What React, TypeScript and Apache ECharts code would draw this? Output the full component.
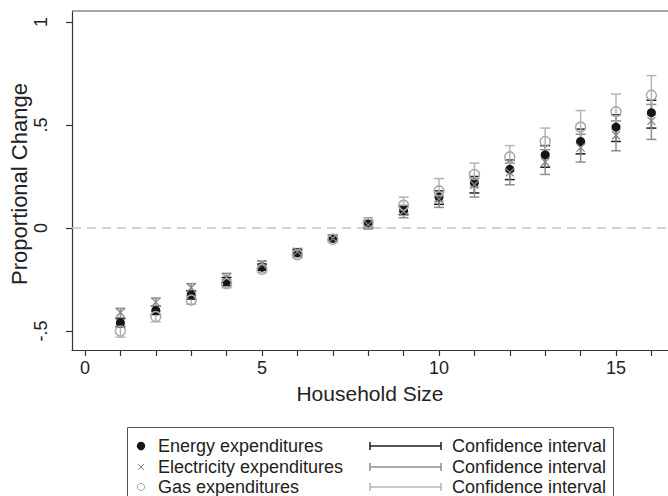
import React, { useEffect, useRef } from "react";
import * as echarts from "echarts";

const householdSize = [1, 2, 3, 4, 5, 6, 7, 8, 9, 10, 11, 12, 13, 14, 15, 16];

const energyMean = [-0.46, -0.4, -0.325, -0.26, -0.19, -0.12, -0.05, 0.02, 0.085, 0.15, 0.22, 0.285, 0.355, 0.42, 0.49, 0.56];
const energyLow = [-0.48, -0.42, -0.345, -0.28, -0.205, -0.135, -0.065, 0.005, 0.065, 0.115, 0.17, 0.235, 0.295, 0.36, 0.42, 0.485];
const energyHigh = [-0.44, -0.38, -0.305, -0.24, -0.175, -0.105, -0.035, 0.035, 0.105, 0.18, 0.25, 0.33, 0.4, 0.48, 0.55, 0.62];

const elecMean = [-0.41, -0.36, -0.29, -0.24, -0.175, -0.115, -0.05, 0.015, 0.08, 0.14, 0.21, 0.27, 0.32, 0.39, 0.45, 0.52];
const elecLow = [-0.435, -0.38, -0.31, -0.26, -0.195, -0.13, -0.065, -0.005, 0.05, 0.1, 0.15, 0.21, 0.26, 0.32, 0.375, 0.43];
const elecHigh = [-0.39, -0.34, -0.27, -0.22, -0.16, -0.1, -0.035, 0.035, 0.11, 0.175, 0.24, 0.315, 0.38, 0.455, 0.52, 0.6];

const gasMean = [-0.5, -0.43, -0.35, -0.27, -0.2, -0.13, -0.055, 0.025, 0.11, 0.18, 0.26, 0.345, 0.42, 0.49, 0.565, 0.645];
const gasLow = [-0.53, -0.455, -0.37, -0.29, -0.215, -0.145, -0.07, 0.005, 0.075, 0.13, 0.2, 0.275, 0.345, 0.41, 0.48, 0.55];
const gasHigh = [-0.47, -0.405, -0.33, -0.25, -0.185, -0.115, -0.04, 0.05, 0.15, 0.24, 0.315, 0.4, 0.485, 0.57, 0.65, 0.74];

const xTickValues = [0, 1, 2, 3, 4, 5, 6, 7, 8, 9, 10, 11, 12, 13, 14, 15, 16];
const xLabelValues = [0, 5, 10, 15];
const yTickValues = [-0.5, 0, 0.5, 1];
const yTickLabels = ["-.5", "0", ".5", "1"];

const seriesNames = ["Energy expenditures", "Electricity expenditures", "Gas expenditures"];
const ciLabel = "Confidence interval";
const xTitle = "Household Size";
const yTitle = "Proportional Change";

const FONT = "'Liberation Sans', Arial, Helvetica, sans-serif";
const C_ENERGY = "#151515";
const C_ELEC = "#858585";
const C_GAS = "#a9a9a9";
const C_ENERGY_CI = "#1c1c1c";
const C_ELEC_CI = "#8e8e8e";
const C_GAS_CI = "#b4b4b4";

function ciSeries(name: string, low: number[], high: number[], color: string) {
  return {
    type: "custom",
    name,
    z: 2,
    silent: true,
    data: householdSize.map((x, i) => [x, low[i], high[i]]),
    encode: { x: 0, y: [1, 2] },
    renderItem: (params: any, api: any) => {
      const x = api.value(0);
      const lo = api.coord([x, api.value(1)]);
      const hi = api.coord([x, api.value(2)]);
      const w = 5;
      const st = { stroke: color, lineWidth: 1.5 };
      return {
        type: "group",
        children: [
          { type: "line", shape: { x1: lo[0], y1: lo[1], x2: hi[0], y2: hi[1] }, style: st },
          { type: "line", shape: { x1: lo[0] - w, y1: lo[1], x2: lo[0] + w, y2: lo[1] }, style: st },
          { type: "line", shape: { x1: hi[0] - w, y1: hi[1], x2: hi[0] + w, y2: hi[1] }, style: st },
        ],
      };
    },
  };
}

export default function App() {
  const ref = useRef<HTMLDivElement>(null);
  useEffect(() => {
    if (!ref.current) return;
    const chart = echarts.init(ref.current, null, { renderer: "svg" });
    const gridLeft = 72;
    const gridTop = 11;
    const gridBottomPx = 350;
    const gridWidth = 596;
    const pxPerX = 35.4;
    const x0px = 85;
    const xMin = (gridLeft - x0px) / pxPerX;
    const xMax = xMin + gridWidth / pxPerX;
    const pxPerY = 206;
    const y0px = 228;
    const yMin = -(gridBottomPx - y0px) / pxPerY;
    const yMax = (y0px - gridTop) / pxPerY;

    const legendRows = [446, 467, 487];
    const legendGraphics: any[] = [
      {
        type: "rect",
        shape: { x: 127.5, y: 427.5, width: 486, height: 100 },
        style: { fill: "#fff", stroke: "#555", lineWidth: 1 },
        z: 10,
      },
      { type: "circle", shape: { cx: 141, cy: legendRows[0], r: 4.2 }, style: { fill: C_ENERGY }, z: 11 },
      { type: "line", shape: { x1: 138, y1: legendRows[1] - 3, x2: 144, y2: legendRows[1] + 3 }, style: { stroke: C_ELEC, lineWidth: 1 }, z: 11 },
      { type: "line", shape: { x1: 138, y1: legendRows[1] + 3, x2: 144, y2: legendRows[1] - 3 }, style: { stroke: C_ELEC, lineWidth: 1 }, z: 11 },
      { type: "circle", shape: { cx: 141, cy: legendRows[2], r: 3.6 }, style: { fill: "none", stroke: C_GAS, lineWidth: 1 }, z: 11 },
      {
        type: "line",
        shape: { x1: gridLeft, y1: gridTop, x2: 668, y2: gridTop },
        style: { stroke: "#8a8a8a", lineWidth: 1.5 },
        z: 1,
      },
    ];
    const ciColors = [C_ENERGY_CI, C_ELEC_CI, C_GAS_CI];
    legendRows.forEach((y, i) => {
      legendGraphics.push({
        type: "text",
        x: 158,
        y,
        style: { text: seriesNames[i], font: `18px ${FONT}`, fill: "#222", verticalAlign: "middle", textAlign: "left" },
        z: 11,
      });
      legendGraphics.push({
        type: "text",
        x: 452,
        y,
        style: { text: ciLabel, font: `18px ${FONT}`, fill: "#222", verticalAlign: "middle", textAlign: "left" },
        z: 11,
      });
      const st = { stroke: ciColors[i], lineWidth: 1.5 };
      legendGraphics.push({ type: "line", shape: { x1: 370, y1: y, x2: 441, y2: y }, style: st, z: 11 });
      legendGraphics.push({ type: "line", shape: { x1: 370, y1: y - 4, x2: 370, y2: y + 4 }, style: st, z: 11 });
      legendGraphics.push({ type: "line", shape: { x1: 441, y1: y - 4, x2: 441, y2: y + 4 }, style: st, z: 11 });
    });

    chart.setOption({
      animation: false,
      backgroundColor: "#fff",
      textStyle: { fontFamily: FONT },
      grid: {
        left: gridLeft,
        top: gridTop,
        width: gridWidth,
        height: gridBottomPx - gridTop,
        show: false,
      },
      xAxis: {
        type: "value",
        min: xMin,
        max: xMax,
        axisLine: { show: true, onZero: false, lineStyle: { color: "#333", width: 1.2 } },
        axisTick: { show: true, customValues: xTickValues, length: 6, lineStyle: { color: "#333", width: 1.2 } },
        axisLabel: { customValues: xLabelValues, fontSize: 18, color: "#222", margin: 9, fontFamily: FONT },
        splitLine: { show: false },
      },
      yAxis: {
        type: "value",
        min: yMin,
        max: yMax,
        axisLine: { show: true, onZero: false, lineStyle: { color: "#333", width: 1.2 } },
        axisTick: { show: true, customValues: yTickValues, length: 6, lineStyle: { color: "#333", width: 1.2 } },
        axisLabel: {
          customValues: yTickValues,
          rotate: 90,
          fontSize: 18,
          color: "#222",
          margin: 22,
          fontFamily: FONT,
          formatter: (v: number) => {
            const idx = yTickValues.findIndex((t) => Math.abs(t - v) < 1e-6);
            return idx >= 0 ? yTickLabels[idx] : "";
          },
        },
        splitLine: { show: false },
      },
      series: [
        ciSeries("Energy CI", energyLow, energyHigh, C_ENERGY_CI),
        ciSeries("Electricity CI", elecLow, elecHigh, C_ELEC_CI),
        ciSeries("Gas CI", gasLow, gasHigh, C_GAS_CI),
        {
          type: "scatter",
          name: seriesNames[0],
          z: 3,
          symbol: "circle",
          symbolSize: 9,
          itemStyle: { color: C_ENERGY, opacity: 1 },
          data: householdSize.map((x, i) => [x, energyMean[i]]),
          markLine: {
            silent: true,
            symbol: ["none", "none"],
            label: { show: false },
            lineStyle: { type: [9, 6], color: "#c4c4c4", width: 1.5 },
            data: [{ yAxis: 0 }],
            z: 1,
          },
        },
        {
          type: "scatter",
          name: seriesNames[1],
          z: 4,
          symbol: "path://M0,0L10,10M10,0L0,10",
          symbolSize: 8,
          itemStyle: { color: "rgba(0,0,0,0)", borderColor: C_ELEC, borderWidth: 1.3, opacity: 1 },
          data: householdSize.map((x, i) => [x, elecMean[i]]),
        },
        {
          type: "scatter",
          name: seriesNames[2],
          z: 5,
          symbol: "circle",
          symbolSize: 10,
          itemStyle: { color: "rgba(0,0,0,0)", borderColor: C_GAS, borderWidth: 1.5, opacity: 1 },
          data: householdSize.map((x, i) => [x, gasMean[i]]),
        },
      ],
      graphic: [
        {
          type: "text",
          x: 19,
          y: 184,
          rotation: Math.PI / 2,
          style: { text: yTitle, font: `22px ${FONT}`, fill: "#222", textAlign: "center", verticalAlign: "middle" },
        },
        {
          type: "text",
          x: 370,
          y: 393,
          style: { text: xTitle, font: `21px ${FONT}`, fill: "#222", textAlign: "center", verticalAlign: "middle" },
        },
        ...legendGraphics,
      ],
    });
    return () => chart.dispose();
  }, []);
  return <div ref={ref} style={{ width: 668, height: 496, position: "fixed", left: 0, top: 0 }} />;
}
